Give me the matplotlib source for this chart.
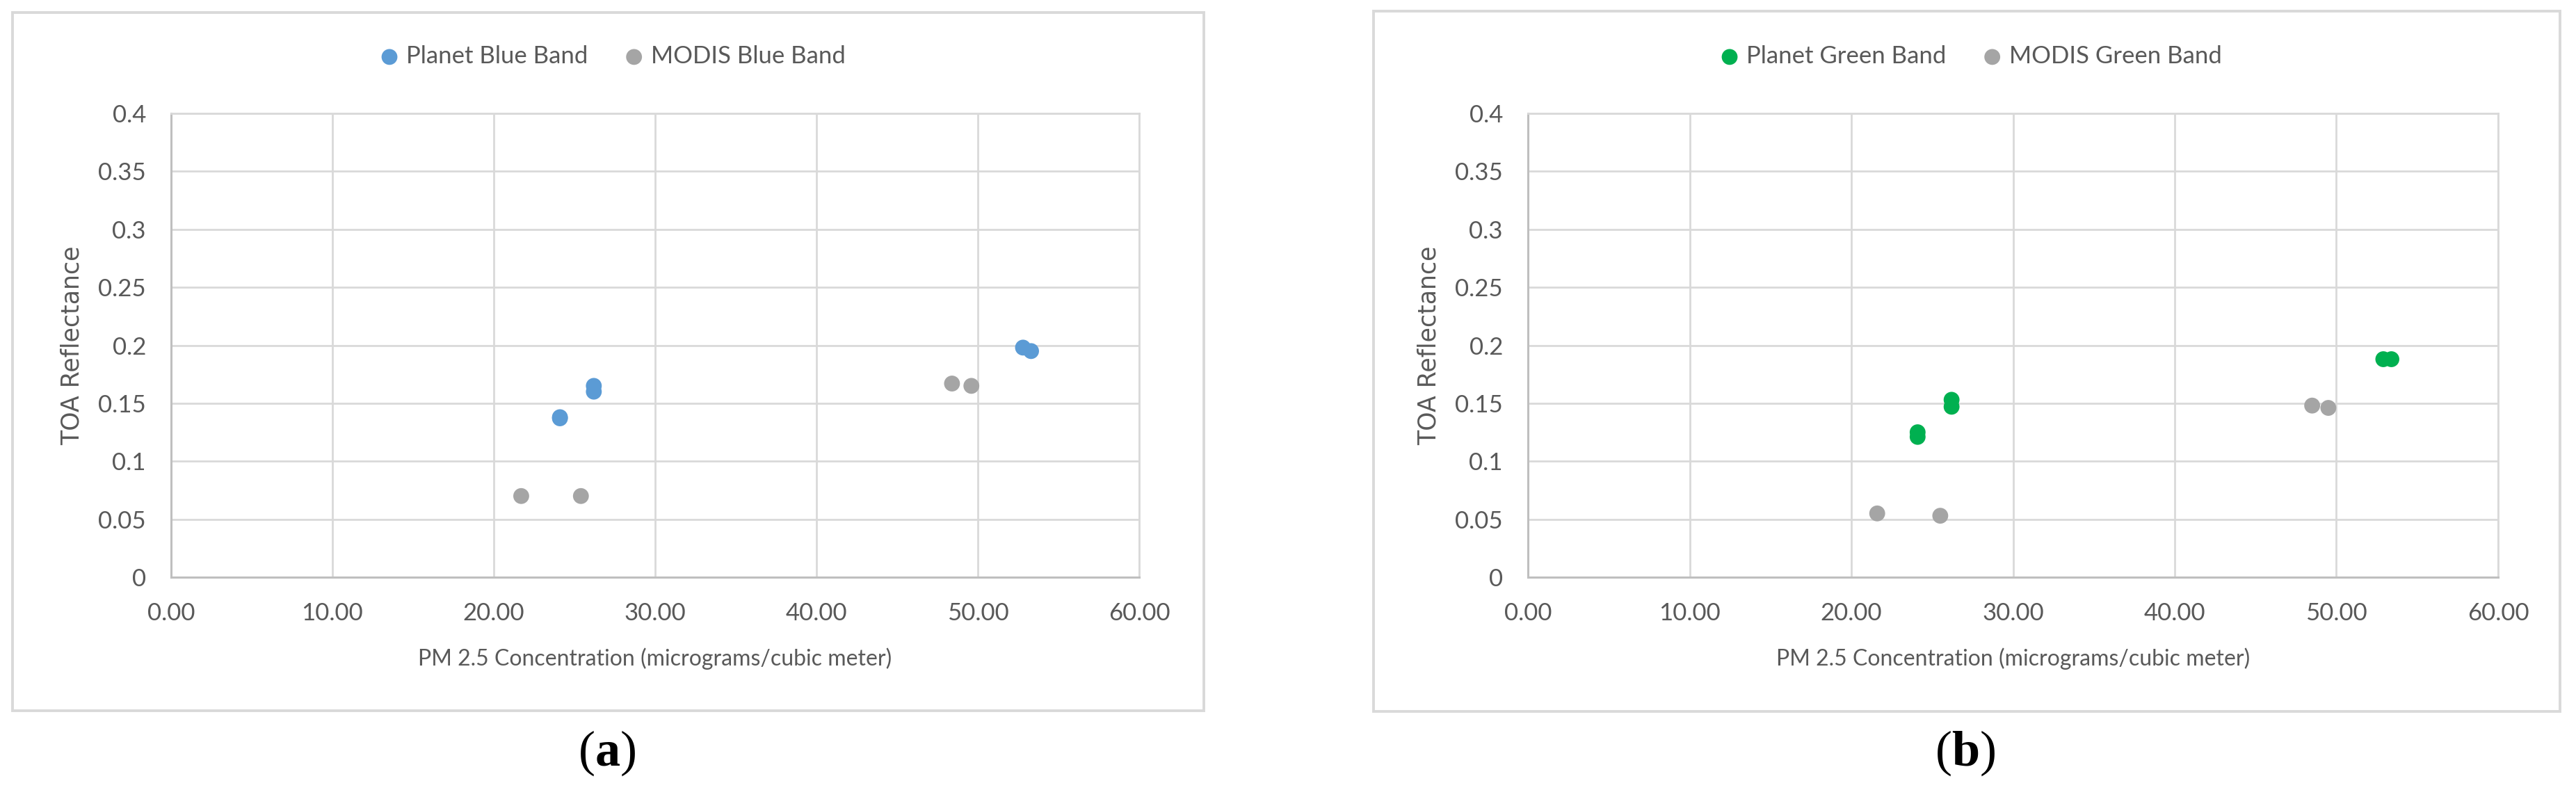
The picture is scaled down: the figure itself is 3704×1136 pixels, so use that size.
import matplotlib
matplotlib.use("Agg")
import matplotlib.pyplot as plt
from matplotlib.patches import Rectangle
from matplotlib.ticker import FuncFormatter

# figure size in pixels
W, H = 3704, 1136
DPI = 100

# data
planet_blue_x = [24.1, 24.1, 26.2, 26.2, 52.8, 53.3]
planet_blue_y = [0.137, 0.138, 0.165, 0.160, 0.198, 0.195]
modis_blue_x = [21.7, 25.4, 48.4, 49.6]
modis_blue_y = [0.070, 0.070, 0.167, 0.165]

planet_green_x = [24.1, 24.1, 26.2, 26.2, 52.9, 53.4]
planet_green_y = [0.125, 0.121, 0.153, 0.147, 0.188, 0.188]
modis_green_x = [21.6, 25.5, 48.5, 49.5]
modis_green_y = [0.055, 0.053, 0.148, 0.146]

x_ticks = [0, 10, 20, 30, 40, 50, 60]
y_ticks = [0, 0.05, 0.1, 0.15, 0.2, 0.25, 0.3, 0.35, 0.4]

BLUE = '#5B9BD5'
GREEN = '#00B050'
GRAY = '#A5A5A5'
TEXT = '#595959'
GRID = '#D9D9D9'

plt.rcParams['mathtext.fontset'] = 'custom'
plt.rcParams['mathtext.rm'] = 'Liberation Serif'
plt.rcParams['mathtext.bf'] = 'Liberation Serif:bold'

fig = plt.figure(figsize=(W / DPI, H / DPI), dpi=DPI)


def px_rect(x0, y0, x1, y1):
    # pixel box (top-left origin) -> figure fraction rect
    return [x0 / W, 1 - y1 / H, (x1 - x0) / W, (y1 - y0) / H]


def draw_panel(ax, px, py, mx, my, color, names, legend_center, letter, letter_x):
    ax.set_xlim(0, 60)
    ax.set_ylim(0, 0.4)
    ax.set_xticks(x_ticks)
    ax.set_yticks(y_ticks)
    ax.xaxis.set_major_formatter(FuncFormatter(lambda v, p: '%.2f' % v))
    ax.yaxis.set_major_formatter(FuncFormatter(lambda v, p: '%g' % v))
    ax.tick_params(length=0, labelsize=25, labelcolor=TEXT, pad=26)
    for lab in ax.get_xticklabels() + ax.get_yticklabels():
        lab.set_family('Lato')
    ax.grid(True, color=GRID, lw=2)
    ax.set_axisbelow(True)
    for s in ['top', 'right']:
        ax.spines[s].set_color(GRID)
        ax.spines[s].set_linewidth(2)
    for s in ['left', 'bottom']:
        ax.spines[s].set_color('#BFBFBF')
        ax.spines[s].set_linewidth(2.2)

    ax.scatter(px, py, s=270, color=color, edgecolors='none', label=names[0], zorder=3)
    ax.scatter(mx, my, s=270, color=GRAY, edgecolors='none', label=names[1], zorder=3)

    ax.text(0.5, -0.1754, 'PM 2.5 Concentration (micrograms/cubic meter)',
            transform=ax.transAxes, ha='center', va='center',
            fontsize=23, color=TEXT, family='Lato')
    ax.text(-0.102, 0.5, 'TOA Reflectance', transform=ax.transAxes,
            rotation=90, ha='center', va='center', fontsize=25, color=TEXT,
            family='DejaVu Sans')

    fig.legend(*ax.get_legend_handles_labels(), loc='center',
               bbox_to_anchor=(legend_center / W, 1 - 81 / H), ncol=2,
               frameon=False, handlelength=0.8, handletextpad=0.3,
               columnspacing=1.5, prop={'family': 'Lato', 'size': 25},
               labelcolor=TEXT)

    fig.text(letter_x / W, 1 - 1083 / H, r'($\mathbf{' + letter + '}$)',
             ha='center', va='center', fontsize=52, family='Liberation Serif')


# panel frames
fig.add_artist(Rectangle(px_rect(18, 18, 1731, 1022)[:2], *px_rect(18, 18, 1731, 1022)[2:],
                         transform=fig.transFigure, fill=False, edgecolor=GRID, lw=2.8))
fig.add_artist(Rectangle(px_rect(1975, 16, 3681, 1023)[:2], *px_rect(1975, 16, 3681, 1023)[2:],
                         transform=fig.transFigure, fill=False, edgecolor=GRID, lw=2.8))

ax_a = fig.add_axes(px_rect(246, 163, 1638, 830))
ax_b = fig.add_axes(px_rect(2197, 163, 3592, 830))

draw_panel(ax_a, planet_blue_x, planet_blue_y, modis_blue_x, modis_blue_y, BLUE,
           ['Planet Blue Band', 'MODIS Blue Band'], 881, 'a', 873)
draw_panel(ax_b, planet_green_x, planet_green_y, modis_green_x, modis_green_y, GREEN,
           ['Planet Green Band', 'MODIS Green Band'], 2834, 'b', 2826)

fig.savefig('out.png', dpi=DPI, facecolor='white')
